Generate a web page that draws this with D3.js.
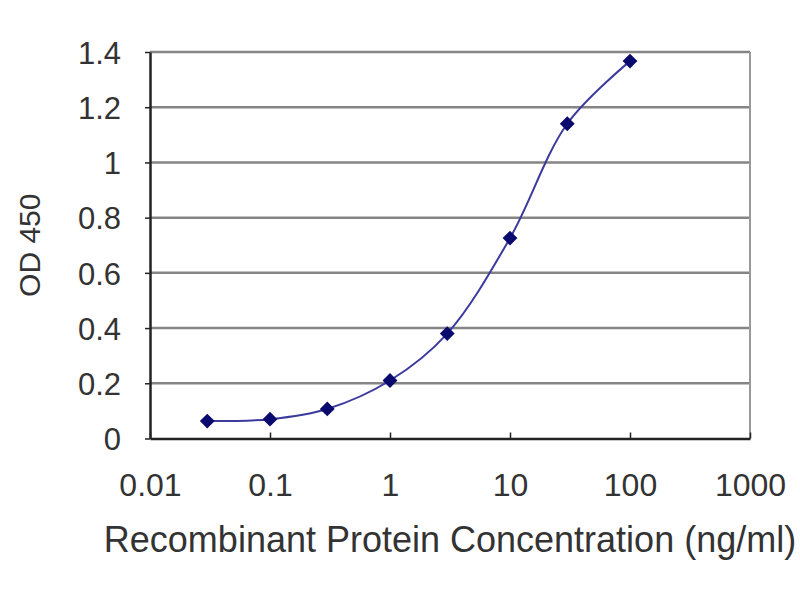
<!DOCTYPE html>
<html>
<head>
<meta charset="utf-8">
<script src="https://cdn.jsdelivr.net/npm/d3@7"></script>
<style>
  html, body { margin: 0; padding: 0; background: #fff; }
  svg text { font-family: "Liberation Sans", Arial, sans-serif; fill: #333; }
</style>
</head>
<body>
<div id="chart"></div>
<script>
// Data
const concentrations = [0.03, 0.1, 0.3, 1, 3, 10, 30, 100];
const odValues = [0.063, 0.07, 0.107, 0.21, 0.38, 0.726, 1.14, 1.367];
const xTicks = [0.01, 0.1, 1, 10, 100, 1000];
const yTicks = [0, 0.2, 0.4, 0.6, 0.8, 1, 1.2, 1.4];

const width = 800;
const height = 600;
const margin = { top: 52, right: 50, bottom: 161.5, left: 150 };

const usableArea = {
    top: margin.top,
    right: width - margin.right,
    bottom: height - margin.bottom,
    left: margin.left
};

const points = concentrations.map((c, i) => ({ x: c, y: odValues[i] }));

const svg = d3.select('#chart')
    .append('svg')
    .attr('width', width)
    .attr('height', height);

const xScale = d3.scaleLog()
    .domain([0.01, 1000])
    .range([usableArea.left, usableArea.right]);

const yScale = d3.scaleLinear()
    .domain([0, 1.4])
    .range([usableArea.bottom, usableArea.top]);

// Horizontal gridlines
svg.append('g')
    .selectAll('line')
    .data(yTicks.filter(d => d > 0))
    .join('line')
    .attr('x1', usableArea.left)
    .attr('x2', usableArea.right)
    .attr('y1', d => yScale(d))
    .attr('y2', d => yScale(d))
    .attr('stroke', '#858585')
    .attr('stroke-width', 2.5);

// Right border
svg.append('line')
    .attr('x1', usableArea.right).attr('x2', usableArea.right)
    .attr('y1', usableArea.top).attr('y2', usableArea.bottom)
    .attr('stroke', '#999')
    .attr('stroke-width', 2);

// Axes
const xAxis = d3.axisBottom(xScale)
    .tickValues(xTicks)
    .tickSizeInner(-6)
    .tickSizeOuter(0)
    .tickPadding(0)
    .tickFormat(d => String(d));

const yAxis = d3.axisLeft(yScale)
    .tickValues(yTicks)
    .tickSizeInner(5)
    .tickSizeOuter(0)
    .tickFormat(d => String(d));

const gx = svg.append('g')
    .attr('transform', `translate(0, ${usableArea.bottom})`)
    .call(xAxis);
gx.select('.domain').attr('stroke', '#222').attr('stroke-width', 2.5);
gx.selectAll('.tick line').attr('stroke', '#222').attr('stroke-width', 1.5);
gx.selectAll('.tick text')
    .attr('y', 57)
    .attr('dy', 0)
    .style('font-size', '32px')
    .attr('fill', '#333');

const gy = svg.append('g')
    .attr('transform', `translate(${usableArea.left}, 0)`)
    .call(yAxis);
gy.select('.domain').attr('stroke', '#222').attr('stroke-width', 2.5);
gy.selectAll('.tick line').attr('stroke', '#222').attr('stroke-width', 1.5);
gy.selectAll('.tick text')
    .attr('x', -29)
    .attr('dy', '0.36em')
    .style('font-size', '31px')
    .attr('fill', '#333');

// Smoothed curve through the points
const line = d3.line()
    .x(d => xScale(d.x))
    .y(d => yScale(d.y))
    .curve(d3.curveCatmullRom.alpha(0.5));

svg.append('path')
    .datum(points)
    .attr('fill', 'none')
    .attr('stroke', '#3b3b9e')
    .attr('stroke-width', 2)
    .attr('d', line);

// Diamond markers
const diamond = d3.symbol().type(d3.symbolDiamond2).size(140);
svg.append('g')
    .selectAll('path')
    .data(points)
    .join('path')
    .attr('transform', d => `translate(${xScale(d.x)}, ${yScale(d.y)})`)
    .attr('d', diamond)
    .attr('fill', '#0a0a6e');

// Axis titles
svg.append('text')
    .attr('x', 450)
    .attr('y', 552)
    .attr('text-anchor', 'middle')
    .style('font-size', '36px')
    .attr('fill', '#333')
    .text('Recombinant Protein Concentration (ng/ml)');

svg.append('text')
    .attr('transform', `translate(40, ${(usableArea.top + usableArea.bottom) / 2}) rotate(-90)`)
    .attr('text-anchor', 'middle')
    .style('font-size', '30px')
    .attr('fill', '#333')
    .text('OD 450');
</script>
</body>
</html>
